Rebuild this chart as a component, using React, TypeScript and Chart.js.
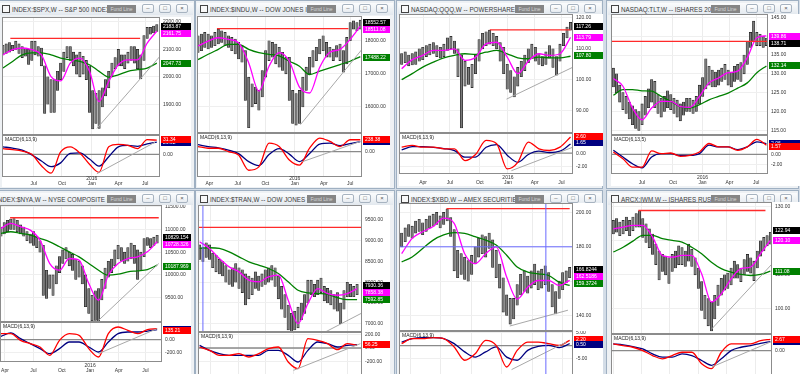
import { useEffect, useRef } from "react";
import { Chart, registerables } from "chart.js";

Chart.register(...registerables);

const FONT = '"Liberation Sans", Arial, sans-serif';
const LINE_STEP = 3; // moving-average / MACD samples are read every 3rd weekly bar

// ---------- S&P 500 ----------
const spxHigh = [2115, 2120, 2125, 2115, 2130, 2120, 2110, 2105, 2100, 2130, 2130, 2110, 2105, 2040, 2000, 1990, 1990, 2020, 2050, 2090, 2110, 2110, 2090, 2080, 2090, 2075, 2060, 2040, 1950, 1940, 1950, 1960, 1990, 2020, 2050, 2070, 2100, 2080, 2080, 2090, 2110, 2110, 2100, 2080, 2150, 2180, 2180, 2185, 2190];
const spxLow = [2080, 2085, 2090, 2095, 2100, 2085, 2070, 2075, 2045, 2060, 2080, 2075, 2040, 1867, 1900, 1870, 1870, 1950, 1990, 2020, 2070, 2060, 2040, 2010, 2000, 2010, 1990, 1870, 1810, 1830, 1812, 1890, 1930, 1960, 2000, 2030, 2040, 2040, 2030, 2050, 2060, 2050, 2030, 1992, 2060, 2140, 2155, 2160, 2165];
const spxFast = [2080, 2099, 2105, 2099, 2080, 2001, 1985, 2050, 2068, 2020, 1910, 1983, 2044, 2062, 2062, 2123, 2166];
const spxSlow = [2032, 2056, 2080, 2087, 2087, 2080, 2068, 2062, 2056, 2044, 2020, 1999, 2007, 2020, 2026, 2032, 2050];
const spxMacd = [12, 10, 7, 0, -24, -40, 5, 16, 3, -21, -38, 16, 21, 19, 12, 31, 30];
const spxSignal = [16, 13, 9, -1, -14, -26, -18, 2, 3, -10, -25, -5, 16, 19, 17, 22, 26];
const spxResistance = [2.3, 42.8, 2140];
const spxTrendline = [29.3, 1812, 49, 2075];
const spxMacdTrendline = [29.3, -41, 47.5, 26];
const spxMonths = [[9.56, "Jul"], [18.4, "Oct"], [27.7, "Jan", "2016"], [36.05, "Apr"], [44.4, "Jul"]];

// ---------- Dow Jones Industrials ----------
const djiHigh = [18150, 18200, 18250, 18200, 18150, 18250, 18350, 18300, 18250, 18150, 18100, 18050, 17950, 17850, 17700, 16900, 16700, 16600, 16500, 17100, 17700, 18000, 17950, 17900, 17800, 17650, 17500, 17500, 16500, 16400, 16500, 16900, 17200, 17500, 17700, 17800, 18050, 18150, 17950, 17800, 17750, 17850, 17900, 17700, 18100, 18550, 18600, 18550, 18620];
const djiLow = [17650, 17700, 17800, 17750, 17800, 17850, 17900, 17950, 17850, 17800, 17700, 17600, 17450, 17350, 16200, 15370, 16000, 16100, 15900, 16300, 16900, 17400, 17500, 17300, 17200, 17100, 17000, 16200, 15500, 15450, 15500, 16000, 16500, 17000, 17200, 17400, 17600, 17700, 17500, 17500, 17400, 17500, 17400, 17050, 17300, 18000, 18350, 18300, 18350];
const djiFast = [17840, 17990, 18090, 18040, 17940, 17330, 16480, 17230, 17640, 17380, 16600, 16420, 17200, 17650, 17740, 18040, 18440];
const djiSlow = [17430, 17590, 17740, 17890, 17890, 17740, 17640, 17590, 17540, 17380, 17230, 16980, 17080, 17180, 17280, 17380, 17520];
const djiMacd = [102, 68, 68, 0, -68, -374, -306, 170, 102, -170, -272, 68, 272, 204, 102, 238, 238];
const djiSignal = [140, 100, 75, 30, -40, -200, -280, -60, 60, -50, -200, -40, 150, 170, 120, 160, 200];
const djiResistance = [5.6, 44.5, 18364];
const djiTrendline = [30.3, 15465, 48.5, 17740];
const djiMacdTrendline = [30.8, -204, 48, 204];
const djiMonths = [[3.35, "Apr"], [11.7, "Jul"], [19.9, "Oct"], [28.6, "Jan", "2016"], [37.2, "Apr"], [45, "Jul"]];

// ---------- QQQ ----------
const qqqHigh = [108.5, 109, 108, 108.5, 109, 110, 110.5, 111, 111.5, 112, 111, 110.5, 111.5, 113.5, 114, 112.5, 110, 108, 106, 104, 105, 108, 113, 115, 115.5, 116, 115, 114, 112, 110.5, 105, 103, 101, 104, 106, 108, 110, 111.5, 110.5, 108.5, 107.5, 109, 111, 110, 107.5, 111.5, 115, 117, 118.5];
const qqqLow = [105, 105.5, 104.5, 104.8, 105, 106, 106.5, 107.5, 108, 108.5, 107.5, 107, 107.5, 109.5, 110, 108.5, 101, 84.5, 98, 98.5, 97.5, 102, 106, 110, 111, 111.5, 111, 110, 106, 102, 97, 96, 94.5, 98, 101, 103, 105.5, 107, 106, 105, 104.5, 105, 107, 104, 101.5, 106, 111, 113.5, 116];
const qqqFast = [103.6, 106.5, 107.9, 109.5, 109.5, 110, 106.3, 107.3, 111.6, 112.1, 107.3, 102, 106, 108.4, 107.9, 108.4, 113.7];
const qqqSlow = [100.1, 102, 104.1, 105.7, 107.1, 107.9, 108.4, 108.2, 108.9, 109.5, 108.4, 107.1, 106.8, 107.3, 107.1, 107.1, 107.6];
const qqqMacd = [0.92, 1.18, 0.92, 0.92, 0.67, 0.67, -1.13, -0.2, 1.95, 1.44, -2.4, -1.4, 1.7, 0.67, 0.41, 0.92, 2.46];
const qqqSignal = [0.5, 1.0, 1.0, 0.9, 0.7, 0.4, -0.6, -0.6, 0.9, 1.3, -0.3, -1.4, -0.2, 0.3, 0.1, 0.3, 1.4];
const qqqResistance = [25.05, 48, 116.1];
const qqqTrendline = [29.8, 93.8, 48.7, 104.1];
const qqqMacdTrendline = [31.2, -2.67, 48.7, 0.92];
const qqqMonths = [[6.1, "Apr"], [13.7, "Jul"], [22.2, "Oct"], [30.2, "Jan", "2016"], [37.8, "Apr"], [45.4, "Jul"]];

// ---------- TLT ----------
const tltHigh = [131.5, 130, 127, 125, 124, 122.5, 121.5, 120.5, 120, 122, 124, 126, 128.5, 128, 124.5, 123.5, 124, 125.5, 124.5, 123.5, 123, 122, 122.5, 123.5, 123.5, 123, 124, 127, 129, 134, 132, 131, 130.5, 131, 131.5, 132.5, 131, 130.5, 132, 132.5, 133, 135, 138.5, 141, 144, 141, 140.5, 140, 139.5];
const tltLow = [126.5, 125, 122.5, 120.5, 119.5, 118, 116.5, 115.5, 115, 116.5, 119, 121, 122.5, 121, 119.5, 118.5, 120, 121, 120.5, 119.5, 118.5, 117.5, 119, 120, 120, 119.5, 120, 122, 124, 126, 127, 126.5, 126.5, 127, 128, 128.5, 127, 126.5, 128, 128.5, 128, 130, 132.5, 137, 138.5, 137.5, 137.5, 137, 137.5];
const tltFast = [128.75, 126.7, 120.9, 117.8, 120.9, 122.7, 122.7, 121.3, 121.1, 124, 127.6, 128.9, 130.3, 130.7, 134.3, 139.6, 140.1];
const tltSlow = [124.3, 125.8, 125.8, 125.5, 125.4, 124, 122.7, 121.3, 120.9, 121.8, 123.1, 124, 124.9, 126.2, 127.6, 130.3, 132.1];
const tltMacd = [0.45, -0.84, -2.45, -2.45, 0.65, 0.13, 0.26, -0.39, -0.2, 0.45, 2.06, 1.42, 1.42, 0.77, 1.42, 2.84, 1.74];
const tltSignal = [0.77, -0.52, -1.8, -2.58, -0.52, 0.13, 0.13, -0.2, -0.2, 0.13, 1.74, 1.42, 1.42, 0.9, 1.42, 2.39, 2.06];
const tltResistance = [-0.74, 48.5, 138.6];
const tltMonths = [[8.97, "Jul"], [18.7, "Oct"], [27.95, "Jan", "2016"], [36.4, "Apr"], [44.8, "Jul"]];

// ---------- NYSE Composite ----------
const nyaHigh = [11050, 11150, 11200, 11230, 11240, 11200, 11100, 11050, 10950, 10900, 10950, 10850, 10750, 10650, 10100, 10000, 10000, 10200, 10400, 10550, 10600, 10500, 10450, 10350, 10300, 10200, 10000, 9700, 9550, 9650, 9700, 9900, 10150, 10300, 10350, 10550, 10650, 10600, 10500, 10600, 10700, 10650, 10550, 10500, 10800, 10820, 10800, 10830, 10870];
const nyaLow = [10850, 10900, 10950, 11000, 11000, 10950, 10900, 10850, 10750, 10700, 10650, 10600, 10500, 9550, 9480, 9700, 9550, 9800, 10050, 10250, 10350, 10200, 10100, 9900, 9950, 9800, 9300, 9150, 8990, 9000, 8960, 9450, 9700, 9950, 10050, 10200, 10350, 10300, 10250, 10300, 10350, 10250, 9900, 10100, 10400, 10650, 10600, 10650, 10700];
const nyaFast = [11022, 11132, 11059, 10985, 10765, 10250, 10103, 10360, 10324, 9809, 9442, 9993, 10250, 10360, 10397, 10507, 10728];
const nyaSlow = [10912, 10949, 10912, 10875, 10802, 10728, 10618, 10507, 10397, 10250, 10103, 9993, 10015, 10067, 10089, 10118, 10214];
const nyaMacd = [92, 92, -10, -62, -113, -241, -10, 92, 67, -138, -267, 92, 195, 144, 92, 154, 169];
const nyaSignal = [51, 103, 15, -62, -138, -215, -138, -36, -36, -113, -190, -36, 92, 118, 118, 133, 154];
const nyaResistance = [2.8, 48.5, 11257];
const nyaTrendline = [30, 9001, 48.5, 10250];
const nyaMacdTrendline = [30, -215, 48, 169];
const nyaMonths = [[1.23, "Apr"], [9.97, "Jul"], [18.7, "Oct"], [27.4, "Jan", "2016"], [36.2, "Apr"], [44.4, "Jul"]];

// ---------- Dow Jones Transports ----------
const tranHigh = [8900, 8850, 8950, 8900, 8700, 8650, 8550, 8500, 8400, 8300, 8350, 8450, 8350, 8300, 8200, 8150, 8100, 8250, 8150, 8200, 8300, 8350, 8400, 8350, 8150, 7900, 7700, 7450, 7250, 7300, 7400, 7500, 7700, 8050, 8050, 7950, 8050, 8100, 7900, 7850, 7800, 7700, 7750, 7500, 7800, 8000, 7950, 7900, 7950];
const tranLow = [8550, 8500, 8600, 8550, 8350, 8250, 8200, 8150, 8000, 7950, 7900, 8000, 7850, 7750, 7450, 7600, 7700, 7850, 7800, 7900, 7950, 8000, 8050, 7900, 7600, 7350, 7150, 6850, 6800, 6850, 6900, 7100, 7250, 7500, 7700, 7650, 7700, 7750, 7550, 7500, 7450, 7350, 7300, 7000, 7350, 7650, 7650, 7650, 7700];
const tranFast = [8976, 8815, 8573, 8371, 8250, 8049, 8009, 8130, 8170, 7565, 7001, 7485, 7847, 7727, 7686, 7727, 7847];
const tranSlow = [8815, 8831, 8815, 8734, 8613, 8492, 8412, 8331, 8210, 8009, 7807, 7743, 7727, 7710, 7630, 7582, 7582];
const tranMacd = [15, -35, -110, -110, -85, -135, -85, -10, 15, -210, -310, 140, 115, 65, -25, 65, 40];
const tranSignal = [40, -35, -85, -110, -110, -110, -110, -35, -35, -110, -210, -35, 90, 65, 15, 40, 50];
const tranResistance = [-0.5, 49.5, 9322];
const tranTrendline = [38.3, 6800, 49.5, 7259];
const tranMacdTrendline = [28.6, -335, 49, 65];
const tranMonths = [[3.4, "Apr"], [11.7, "Jul"], [20, "Oct"], [28.6, "Jan", "2016"], [37.2, "Apr"], [45, "Jul"]];

// ---------- AMEX Securities Broker/Dealer ----------
const xbdHigh = [188, 191, 193, 192, 195, 196, 194, 196, 198, 199, 200, 198, 200, 202, 197, 190, 178, 176, 174, 172, 175, 180, 185, 187, 186, 188, 184, 178, 170, 162, 152, 150, 150, 158, 164, 166, 163, 166, 170, 166, 167, 169, 165, 158, 154, 160, 165, 166, 168];
const xbdLow = [180, 183, 186, 185, 188, 189, 187, 189, 191, 192, 193, 191, 193, 195, 186, 166, 162, 164, 161, 160, 164, 170, 174, 176, 174, 179, 168, 162, 156, 142, 140, 135, 138, 146, 152, 154, 153, 156, 158, 155, 156, 158, 154, 145, 141, 150, 155, 159, 162];
const xbdFast = [176, 184.9, 188.8, 191.8, 196.7, 193.7, 176, 170.2, 176, 180, 162.4, 149.6, 156.5, 160.4, 160.4, 157.5, 160.5];
const xbdSlow = [171.2, 174.1, 179, 183.9, 186.9, 188.2, 187.8, 185.9, 183.9, 181, 175.1, 168.2, 165.3, 164.3, 163.3, 159.4, 157.5];
const xbdMacd = [0.77, 2.7, 2.7, 3.1, 2.7, -0.5, -5.6, -3.1, 2.05, 0.13, -8.2, -1.8, 1.4, 1.4, 0.77, 0.13, 2.05];
const xbdSignal = [1.4, 2.7, 3.1, 3.1, 2.7, 0.77, -2.4, -4.4, -2.4, -0.5, -4.4, -5.6, -1.8, -0.26, 0.13, -0.77, 0.77];
const xbdResistance = [12.8, 48, 202.2];
const xbdTrendline = [30.9, 133.9, 47.5, 143.1];
const xbdMacdTrendline = [31.4, -9.2, 47.05, 1.4];
const xbdMonths = [[2.5, "Apr"], [11.2, "Jul"], [19.9, "Oct"], [28.6, "Jan", "2016"], [37.3, "Apr"], [46, "Jul"]];

// ---------- iShares Russell 2000 ----------
const iwmHigh = [126, 126.5, 125.5, 126, 127, 126, 127, 128, 128.8, 126.5, 125, 123.5, 122, 119, 117, 116, 115.5, 115, 116, 117, 118.5, 118, 117, 119, 117.5, 115, 112, 108, 104, 103, 102, 104, 107, 109, 110, 110.5, 112, 114, 113, 112, 114.5, 116, 115, 114, 117, 120, 121, 121.5, 122.5];
const iwmLow = [122, 122.5, 121.5, 122, 123, 121.5, 123, 124, 124, 121, 119.5, 118, 116, 113, 108.5, 111, 110, 107.5, 111, 112, 113, 113, 112.5, 114, 112.5, 110, 106, 99.5, 97, 95, 93.5, 97, 101, 104, 105.5, 106, 107, 109, 109, 108, 110, 111, 110.5, 108.3, 112, 115.5, 117, 118.5, 119];
const iwmFast = [123.5, 124, 124.5, 124.5, 121.1, 115.7, 115.2, 115.7, 115.7, 110.3, 102, 104.4, 108.8, 111.8, 112.3, 116.2, 120.1];
const iwmSlow = [116.7, 118.1, 119.9, 121.6, 121.6, 120.6, 120.1, 119.6, 118.1, 116.2, 113.7, 111.8, 110.8, 110.1, 109.8, 110.1, 111.1];
const iwmMacd = [1.57, 1.18, 0.79, 0, -1.18, -1.97, -1.18, -0.4, -0.4, -3.15, -4.3, -0.4, 1.57, 1.57, 1.57, 2.36, 2.67];
const iwmSignal = [1.57, 1.34, 0.94, 0.39, -0.79, -1.57, -1.57, -0.79, -1.18, -2.36, -3.5, -1.97, 0, 0.79, 1.18, 1.73, 2.13];
const iwmResistance = [7.66, 46.5, 128.9];
const iwmTrendline = [30.1, 94.1, 49, 113.7];
const iwmMacdTrendline = [30.1, -3.9, 49, 2.36];
const iwmMonths = [[0, "Apr"], [8.7, "Jul"], [17.3, "Oct"], [26, "Jan", "2016"], [34.7, "Apr"], [43.4, "Jul"]];

const BLACK = "#000000", PINK = "#ff00ff", GREEN = "#008000", RED = "#ff0000", NAVY = "#000080";

const panels: any[] = [
  {
    title: "INDEX:$SPX,W -- S&P 500 INDEX", win: { l: -3, t: 0, w: 198, h: 189 },
    plotL: 2, axisL: 160, axisR: 191, priceT: 17, sep: 135, macdB: 177, lblB: 187,
    xMin: -0.3, xMax: 49, high: spxHigh, low: spxLow, fast: spxFast, slow: spxSlow, macd: spxMacd, signal: spxSignal,
    yMin: 1788, yMax: 2218, yTicks: [1900, 2000, 2100, 2200], mMin: -48, mMax: 41, mTicks: [0],
    resist: spxResistance, trend: spxTrendline, mTrend: spxMacdTrendline, months: spxMonths,
    tags: [{ v: 2183.87, text: "2183.87", bg: BLACK }, { v: 2161.75, text: "2161.75", bg: PINK }, { v: 2047.73, text: "2047.73", bg: GREEN }],
    mTags: [{ v: 26, text: "26.02", bg: NAVY }, { v: 31.34, text: "31.34", bg: RED }], macdLabel: "MACD(6,13,9)",
  },
  {
    title: "INDEX:$INDU,W -- DOW JONES INDUSTRIALS", win: { l: 195, t: 0, w: 200, h: 189 },
    plotL: 197, axisL: 362, axisR: 390, priceT: 16, sep: 133, macdB: 177, lblB: 187,
    xMin: -0.3, xMax: 48.5, high: djiHigh, low: djiLow, fast: djiFast, slow: djiSlow, macd: djiMacd, signal: djiSignal,
    yMin: 15212, yMax: 18747, yTicks: [16000, 17000, 18000], mMin: -510, mMax: 374, mTicks: [0],
    resist: djiResistance, trend: djiTrendline, mTrend: djiMacdTrendline, months: djiMonths,
    tags: [{ v: 18552.57, text: "18552.57", bg: BLACK }, { v: 18511.08, text: "18511.08", bg: PINK }, { v: 17488.22, text: "17488.22", bg: GREEN }],
    mTags: [{ v: 200, text: "199.71", bg: NAVY }, { v: 238.38, text: "238.38", bg: RED }], macdLabel: "MACD(6,13,9)",
  },
  {
    title: "NASDAQ:QQQ,W -- POWERSHARES QQQ TRUST", win: { l: 396, t: 0, w: 207, h: 189 },
    plotL: 399, axisL: 573, axisR: 603, priceT: 14, sep: 133, macdB: 174, lblB: 186,
    xMin: -0.76, xMax: 48.7, high: qqqHigh, low: qqqLow, fast: qqqFast, slow: qqqSlow, macd: qqqMacd, signal: qqqSignal,
    yMin: 82.9, yMax: 121.2, yTicks: [90, 100, 110, 120], mMin: -3.18, mMax: 3.08, mTicks: [0, -2],
    resist: qqqResistance, trend: qqqTrendline, mTrend: qqqMacdTrendline, months: qqqMonths,
    tags: [{ v: 117.26, text: "117.26", bg: BLACK }, { v: 113.79, text: "113.79", bg: PINK }, { v: 107.8, text: "107.80", bg: GREEN }],
    mTags: [{ v: 1.65, text: "1.65", bg: NAVY }, { v: 2.6, text: "2.60", bg: RED }], macdLabel: "MACD(6,13,9)",
  },
  {
    title: "NASDAQ:TLT,W -- ISHARES 20+ YEAR TREASURY BOND", win: { l: 606, t: 0, w: 193, h: 189 },
    plotL: 611, axisL: 768, axisR: 800, priceT: 14, sep: 135, macdB: 174, lblB: 186,
    xMin: -0.74, xMax: 48.5, high: tltHigh, low: tltLow, fast: tltFast, slow: tltSlow, macd: tltMacd, signal: tltSignal,
    yMin: 113.75, yMax: 145.9, yTicks: [115, 120, 125, 130, 135, 140, 145], mMin: -3.74, mMax: 3.68, mTicks: [0, -2],
    resist: tltResistance, trend: null, mTrend: null, months: tltMonths,
    tags: [{ v: 139.86, text: "139.86", bg: PINK }, { v: 138.71, text: "138.71", bg: BLACK }, { v: 132.14, text: "132.14", bg: GREEN }],
    mTags: [{ v: 2.06, text: "2.06", bg: NAVY }, { v: 1.57, text: "1.57", bg: RED }], macdLabel: "MACD(6,13,5)",
  },
  {
    title: "INDEX:$NYA,W -- NYSE COMPOSITE INDEX", win: { l: -19, t: 190, w: 214, h: 190 },
    plotL: 0, axisL: 162, axisR: 191, priceT: 205, sep: 322, macdB: 362, lblB: 374,
    xMin: -0.3, xMax: 49.5, high: nyaHigh, low: nyaLow, fast: nyaFast, slow: nyaSlow, macd: nyaMacd, signal: nyaSignal,
    yMin: 8964, yMax: 11537, yTicks: [9500, 10000, 10500, 11000, 11500], mMin: -344, mMax: 272, mTicks: [0, -200],
    resist: nyaResistance, trend: nyaTrendline, mTrend: nyaMacdTrendline, months: nyaMonths,
    tags: [{ v: 10829.154, text: "10829.154", bg: BLACK }, { v: 10728.326, text: "10728.326", bg: PINK }, { v: 10187.969, text: "10187.969", bg: GREEN }],
    mTags: [{ v: 154, text: "154.02", bg: NAVY }, { v: 135.21, text: "135.21", bg: RED }], macdLabel: "MACD(6,13,9)",
  },
  {
    title: "INDEX:$TRAN,W -- DOW JONES TRANSPORTATION", win: { l: 195, t: 190, w: 200, h: 190 },
    plotL: 198, axisL: 362, axisR: 390, priceT: 205, sep: 332, macdB: 380, lblB: null,
    xMin: -0.5, xMax: 49.5, high: tranHigh, low: tranLow, fast: tranFast, slow: tranSlow, macd: tranMacd, signal: tranSignal,
    yMin: 6800, yMax: 9862, yTicks: [7000, 7500, 8000, 8500, 9000, 9500], mMin: -480, mMax: 240, mTicks: [200, 0, -200],
    resist: tranResistance, trend: tranTrendline, mTrend: tranMacdTrendline, months: tranMonths, vLine: 1.0,
    tags: [{ v: 7930.36, text: "7930.36", bg: BLACK }, { v: 7858.38, text: "7858.38", bg: PINK }, { v: 7592.85, text: "7592.85", bg: GREEN }],
    mTags: [{ v: 50, text: "50.14", bg: NAVY }, { v: 56.25, text: "56.25", bg: RED }], macdLabel: "MACD(6,13,9)",
  },
  {
    title: "INDEX:$XBD,W -- AMEX SECURITIES BROKER/DEALER", win: { l: 396, t: 190, w: 207, h: 190 },
    plotL: 399, axisL: 573, axisR: 603, priceT: 203, sep: 331, macdB: 380, lblB: null,
    xMin: -0.76, xMax: 48.95, high: xbdHigh, low: xbdLow, fast: xbdFast, slow: xbdSlow, macd: xbdMacd, signal: xbdSignal,
    yMin: 131, yMax: 205.5, yTicks: [140, 160, 180, 200], mMin: -13.2, mMax: 5.64, mTicks: [5, -5],
    resist: xbdResistance, trend: xbdTrendline, mTrend: xbdMacdTrendline, months: xbdMonths, vLine: 41.2, vLineMacd: true, hLine: 180,
    tags: [{ v: 166.8244, text: "166.8244", bg: BLACK }, { v: 162.5186, text: "162.5186", bg: PINK }, { v: 159.3724, text: "159.3724", bg: GREEN }],
    mTags: [{ v: 2.2, text: "2.20", bg: RED }, { v: 0.5, text: "0.50", bg: NAVY }], macdLabel: "MACD(6,13,9)",
  },
  {
    title: "ARCX:IWM,W -- ISHARES RUSSELL 2000 INDEX", win: { l: 606, t: 190, w: 193, h: 190 },
    plotL: 611, axisL: 772, axisR: 800, priceT: 202, sep: 334, macdB: 380, lblB: null,
    xMin: -0.7, xMax: 48.5, high: iwmHigh, low: iwmLow, fast: iwmFast, slow: iwmSlow, macd: iwmMacd, signal: iwmSignal,
    yMin: 92.6, yMax: 131.4, yTicks: [100, 110, 120, 130], mMin: -7, mMax: 3.94, mTicks: [0],
    resist: iwmResistance, trend: iwmTrendline, mTrend: iwmMacdTrendline, months: iwmMonths,
    tags: [{ v: 122.94, text: "122.94", bg: BLACK }, { v: 120.1, text: "120.10", bg: PINK }, { v: 111.08, text: "111.08", bg: GREEN }],
    mTags: [{ v: 2.13, text: "2.13", bg: NAVY }, { v: 2.67, text: "2.67", bg: RED }], macdLabel: "MACD(6,13,9)",
  },
];

const sampled = (arr: number[]) => arr.map((v, k) => ({ x: k * LINE_STEP, y: v }));
const seg = (x0: number, y0: number, x1: number, y1: number) => [{ x: x0, y: y0 }, { x: x1, y: y1 }];

const lineDs = (data: any[], color: string, width: number, order: number, smooth = false) => ({
  type: "line", data, borderColor: color, borderWidth: width, pointRadius: 0, fill: false, order,
  cubicInterpolationMode: smooth ? "monotone" : "default", tension: 0,
});

const bgPlugin = {
  id: "bg",
  beforeDraw(chart: any) {
    const ctx = chart.ctx;
    ctx.save();
    ctx.fillStyle = "#ffffff";
    ctx.fillRect(0, 0, chart.width, chart.height);
    ctx.restore();
  },
};

const framePlugin = {
  id: "frame",
  afterDatasetsDraw(chart: any) {
    const { ctx, chartArea: a } = chart;
    ctx.save();
    ctx.strokeStyle = "#8c8c8c";
    ctx.lineWidth = 1;
    ctx.strokeRect(Math.round(a.left) + 0.5, Math.round(a.top) + 0.5, Math.round(a.right - a.left) - 1, Math.round(a.bottom - a.top) - 1);
    ctx.restore();
  },
};

const tagsPlugin = (tags: any[], avoid: boolean) => ({
  id: "tags",
  afterDraw(chart: any) {
    const { ctx, chartArea, scales } = chart;
    const h = 7;
    const x0 = Math.round(chartArea.right) + 1;
    const w = chart.width - x0;
    const items = tags.map((t) => ({ ...t, py: scales.y.getPixelForValue(t.v) }));
    if (avoid) {
      items.sort((a, b) => a.py - b.py);
      for (let i = 1; i < items.length; i++) {
        if (items[i].py < items[i - 1].py + h) items[i].py = items[i - 1].py + h;
      }
    }
    ctx.save();
    ctx.font = `5px ${FONT}`;
    ctx.textBaseline = "middle";
    ctx.textAlign = "left";
    for (const t of items) {
      const top = Math.round(t.py - h / 2);
      ctx.fillStyle = t.bg;
      ctx.fillRect(x0, top, w, h);
      ctx.fillStyle = "#ffffff";
      ctx.fillText(t.text, x0 + 2, top + h / 2 + 0.5);
    }
    ctx.restore();
  },
});

const textPlugin = (label: string) => ({
  id: "macdLabel",
  afterDraw(chart: any) {
    const { ctx, chartArea } = chart;
    ctx.save();
    ctx.font = `5px ${FONT}`;
    ctx.fillStyle = "#222";
    ctx.textBaseline = "top";
    ctx.fillText(label, chartArea.left + 3, chartArea.top + 2);
    ctx.restore();
  },
});

const monthPlugin = (months: any[]) => ({
  id: "months",
  afterDraw(chart: any) {
    const { ctx } = chart;
    const xs = chart.scales.x;
    ctx.save();
    ctx.font = `5px ${FONT}`;
    ctx.fillStyle = "#333";
    ctx.textAlign = "center";
    ctx.textBaseline = "bottom";
    const yb = chart.height - 0.5;
    for (const m of months) {
      const px = xs.getPixelForValue(m[0]);
      ctx.fillText(m[1], px, yb);
      if (m[2]) ctx.fillText(m[2], px, yb - 5);
    }
    ctx.restore();
  },
});

function xScale(p: any, h: number) {
  return {
    type: "linear", min: p.xMin, max: p.xMax, offset: false,
    afterBuildTicks: (s: any) => { s.ticks = p.months.map((m: any) => ({ value: m[0] })); },
    ticks: { display: false },
    grid: { color: "#ececec", drawTicks: false, offset: false },
    border: { display: false },
    afterFit: (s: any) => { s.height = h; s.paddingLeft = 0; s.paddingRight = 0; },
  };
}

function yScale(min: number, max: number, ticks: number[], axisW: number) {
  return {
    type: "linear", position: "right", min, max,
    afterBuildTicks: (s: any) => { s.ticks = ticks.map((v) => ({ value: v })); },
    ticks: { autoSkip: false, font: { family: FONT, size: 5 }, color: "#333", padding: 3, callback: (v: any) => Number(v).toFixed(2) },
    grid: { color: "#efefef", drawTicks: false },
    border: { display: false },
    afterFit: (s: any) => { s.width = axisW; s.paddingTop = 0; s.paddingBottom = 0; },
  };
}

const baseOptions = {
  animation: false, responsive: false, maintainAspectRatio: false, events: [],
  layout: { padding: 0 },
  plugins: { legend: { display: false }, tooltip: { enabled: false } },
};

function priceConfig(p: any, axisW: number): any {
  const bars = p.high.map((h: number, i: number) => ({ x: i, y: [p.low[i], h] }));
  const datasets: any[] = [
    { type: "bar", data: bars, backgroundColor: "#7a7a7a", borderColor: "#1c1c1c", borderWidth: 0.6, borderSkipped: false, barThickness: 2.4, order: 10 },
    lineDs(sampled(p.slow), "#008000", 1.3, 5, true),
    lineDs(sampled(p.fast), "#ff00ff", 1.3, 4, true),
    lineDs(seg(p.resist[0], p.resist[2], p.resist[1], p.resist[2]), "#ff2a2a", 1.3, 3),
  ];
  if (p.trend) datasets.push(lineDs(seg(p.trend[0], p.trend[1], p.trend[2], p.trend[3]), "#a8a8a8", 1, 2));
  if (p.hLine !== undefined) datasets.push(lineDs(seg(p.xMin, p.hLine, p.xMax, p.hLine), "#6a6aff", 1, 1));
  if (p.vLine !== undefined) datasets.push(lineDs(seg(p.vLine, p.yMin, p.vLine, p.yMax), "#6a6aff", 1, 1));
  return {
    type: "line",
    data: { datasets },
    options: { ...baseOptions, scales: { x: xScale(p, 0), y: yScale(p.yMin, p.yMax, p.yTicks, axisW) } },
    plugins: [bgPlugin, framePlugin, tagsPlugin(p.tags, true)],
  };
}

function macdConfig(p: any, axisW: number, lblH: number): any {
  const datasets: any[] = [
    lineDs(seg(p.xMin, 0, p.xMax, 0), "#8a8a8a", 1.3, 6),
    lineDs(sampled(p.signal), "#000080", 1.3, 4, true),
    lineDs(sampled(p.macd), "#ff0000", 1.3, 3, true),
  ];
  if (p.mTrend) datasets.push(lineDs(seg(p.mTrend[0], p.mTrend[1], p.mTrend[2], p.mTrend[3]), "#a8a8a8", 1, 2));
  if (p.vLine !== undefined && p.vLineMacd) datasets.push(lineDs(seg(p.vLine, p.mMin, p.vLine, p.mMax), "#6a6aff", 1, 1));
  const plugins: any[] = [bgPlugin, framePlugin, tagsPlugin(p.mTags, false), textPlugin(p.macdLabel)];
  if (lblH > 0) plugins.push(monthPlugin(p.months));
  return {
    type: "line",
    data: { datasets },
    options: { ...baseOptions, scales: { x: xScale(p, lblH), y: yScale(p.mMin, p.mMax, p.mTicks, axisW) } },
    plugins,
  };
}

function Panel({ p }: { p: any }) {
  const priceRef = useRef<HTMLCanvasElement>(null);
  const macdRef = useRef<HTMLCanvasElement>(null);
  const W = p.axisR - p.plotL;
  const axisW = p.axisR - p.axisL;
  const priceH = p.sep - p.priceT;
  const bottom = p.lblB ?? p.macdB;
  const macdH = bottom - p.sep;
  const lblH = p.lblB ? p.lblB - p.macdB : 0;

  useEffect(() => {
    const c1 = new Chart(priceRef.current as HTMLCanvasElement, priceConfig(p, axisW));
    const c2 = new Chart(macdRef.current as HTMLCanvasElement, macdConfig(p, axisW, lblH));
    return () => { c1.destroy(); c2.destroy(); };
  }, []);

  const btn = (right: number, glyph: string) => (
    <div style={{
      position: "absolute", right, top: 1, width: 12, height: 9, boxSizing: "border-box",
      border: "1px solid #a7b3c0", borderRadius: 2, background: "linear-gradient(#ffffff,#e6ebf0)",
      font: `6px ${FONT}`, color: "#555", textAlign: "center", lineHeight: "7px",
    }}>{glyph}</div>
  );

  return (
    <>
      <div style={{
        position: "absolute", left: p.win.l, top: p.win.t, width: p.win.w, height: p.win.h,
        boxSizing: "border-box", border: "1px solid #9fb0c2", background: "#eef1f4",
      }}>
        <div style={{
          position: "absolute", left: 1, right: 1, top: 2, height: 12,
          background: "linear-gradient(#fbfcfd,#e2e8ee)", overflow: "hidden",
        }}>
          <div style={{ position: "absolute", left: 3, top: 2, width: 8, height: 8, boxSizing: "border-box", border: "1px solid #444", background: "#f8f8f8" }} />
          <div style={{
            position: "absolute", left: 13, top: 2, width: p.win.w - 101, height: 10, overflow: "hidden",
            whiteSpace: "nowrap", font: `6.3px ${FONT}`, color: "#3c3c3c", lineHeight: "9px",
          }}>{p.title}</div>
          <div style={{
            position: "absolute", right: 57, top: 2, width: 29, height: 8, background: "#858585",
            font: `5px ${FONT}`, color: "#d8d8d8", textAlign: "center", lineHeight: "8px",
          }}>Fund Line</div>
          {btn(39, "–")}
          {btn(22, "□")}
          {btn(5, "×")}
        </div>
      </div>
      <canvas ref={priceRef} width={W} height={priceH}
        style={{ position: "absolute", left: p.plotL, top: p.priceT, width: W, height: priceH }} />
      <canvas ref={macdRef} width={W} height={macdH}
        style={{ position: "absolute", left: p.plotL, top: p.sep, width: W, height: macdH }} />
    </>
  );
}

export default function App() {
  return (
    <div style={{ position: "fixed", left: 0, top: 0, width: 800, height: 374, overflow: "hidden", background: "#d4dde7" }}>
      {panels.map((p, i) => <Panel key={i} p={p} />)}
    </div>
  );
}
